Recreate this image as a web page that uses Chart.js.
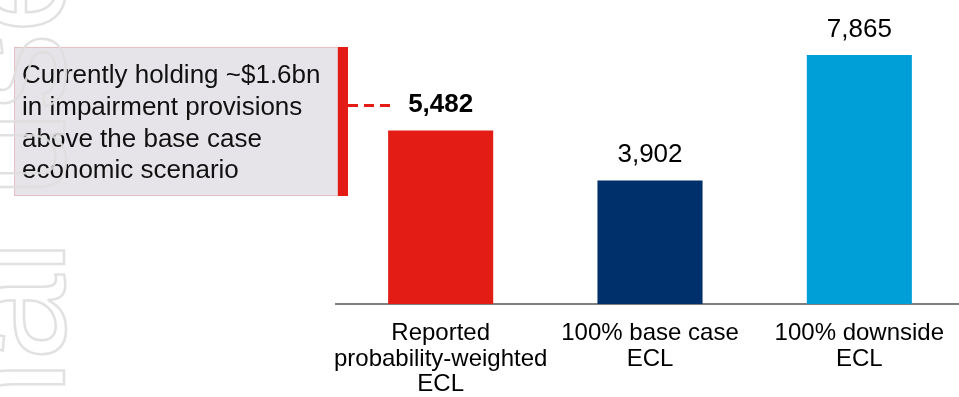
<!DOCTYPE html>
<html>
<head>
<meta charset="utf-8">
<script src="https://cdn.jsdelivr.net/npm/chart.js@4/dist/chart.umd.min.js"></script>
<style>
  html, body { margin: 0; padding: 0; background: #ffffff; overflow: hidden; }
  #wrap { width: 980px; height: 397px; }
</style>
</head>
<body>
<div id="wrap"><canvas id="c" width="980" height="397"></canvas></div>
<script>
// Expected credit loss scenarios ($m)
const categories = [
  ['Reported', 'probability-weighted', 'ECL'],
  ['100% base case', 'ECL'],
  ['100% downside', 'ECL']
];
const eclValues = [5482, 3902, 7865];
const valueLabels = ['5,482', '3,902', '7,865'];
const barColors = ['#e31d16', '#00306b', '#009fd7'];
const boldLabel = [true, false, false];
const calloutLines = [
  'Currently holding ~$1.6bn',
  'in impairment provisions',
  'above the base case',
  'economic scenario'
];
const watermarkHead = 'Internal';
const watermarkTail = ' use';

const FONT = '"Liberation Sans", Arial, sans-serif';

// Numbers above each bar
const valueLabelPlugin = {
  id: 'valueLabels',
  afterDatasetsDraw(chart) {
    const ctx = chart.ctx;
    const meta = chart.getDatasetMeta(0);
    ctx.save();
    ctx.textAlign = 'center';
    ctx.textBaseline = 'alphabetic';
    ctx.fillStyle = '#000000';
    meta.data.forEach((bar, i) => {
      ctx.font = (boldLabel[i] ? 'bold ' : '') + '26px ' + FONT;
      ctx.fillText(valueLabels[i], bar.x, bar.y - 18);
    });
    ctx.restore();
  }
};

// Commentary box with red edge, leader line to the reported figure, and faint watermark
const calloutPlugin = {
  id: 'callout',
  afterDraw(chart) {
    const ctx = chart.ctx;
    const bar = chart.getDatasetMeta(0).data[0];
    const box = { x: 14, y: 47, w: 324, h: 149 };
    ctx.save();
    ctx.fillStyle = '#e6e4e8';
    ctx.fillRect(box.x, box.y, box.w, box.h);
    ctx.strokeStyle = 'rgba(235,60,60,0.22)';
    ctx.lineWidth = 1;
    ctx.strokeRect(box.x + 0.5, box.y + 0.5, box.w - 1, box.h - 1);
    // red edge
    ctx.fillStyle = '#e31d16';
    ctx.fillRect(box.x + box.w, box.y, 10, box.h);
    // leader line toward the label of the first bar
    const ly = bar.y - 25;
    ctx.strokeStyle = '#e31d16';
    ctx.lineWidth = 3;
    ctx.setLineDash([10, 6]);
    ctx.beginPath();
    ctx.moveTo(box.x + box.w + 10, ly);
    ctx.lineTo(bar.x - 50, ly);
    ctx.stroke();
    ctx.setLineDash([]);
    // text
    ctx.fillStyle = '#111111';
    ctx.font = '26px ' + FONT;
    ctx.textAlign = 'left';
    ctx.textBaseline = 'alphabetic';
    calloutLines.forEach((t, i) => ctx.fillText(t, 22, 83 + i * 31.8));
    // watermark, outlined and rotated
    ctx.translate(64, 240);
    ctx.rotate(-Math.PI / 2);
    ctx.font = '155px ' + FONT;
    ctx.strokeStyle = 'rgba(222,222,222,0.9)';
    ctx.lineWidth = 2.5;
    ctx.textBaseline = 'alphabetic';
    ctx.textAlign = 'right';
    ctx.strokeText(watermarkHead, 0, 0);
    ctx.textAlign = 'left';
    ctx.strokeText(watermarkTail, 0, 0);
    ctx.restore();
  }
};

new Chart(document.getElementById('c'), {
  type: 'bar',
  data: {
    labels: categories,
    datasets: [{
      data: eclValues,
      backgroundColor: barColors,
      borderWidth: 0,
      barPercentage: 0.502,
      categoryPercentage: 1.0
    }]
  },
  options: {
    responsive: false,
    animation: false,
    devicePixelRatio: 1,
    layout: { padding: { left: 336, right: 16, top: 19, bottom: 0 } },
    plugins: {
      legend: { display: false },
      tooltip: { enabled: false },
      title: { display: false }
    },
    scales: {
      x: {
        grid: { display: false, drawTicks: false },
        border: { display: true, color: '#7f7f7f', width: 2 },
        ticks: {
          color: '#000000',
          padding: 17,
          maxRotation: 0,
          autoSkip: false,
          font: { family: FONT, size: 24, lineHeight: 1.06 }
        },
        afterFit(scale) { scale.height = 93; }
      },
      y: {
        display: false,
        min: 0,
        max: 9000
      }
    }
  },
  plugins: [valueLabelPlugin, calloutPlugin]
});
</script>
</body>
</html>
